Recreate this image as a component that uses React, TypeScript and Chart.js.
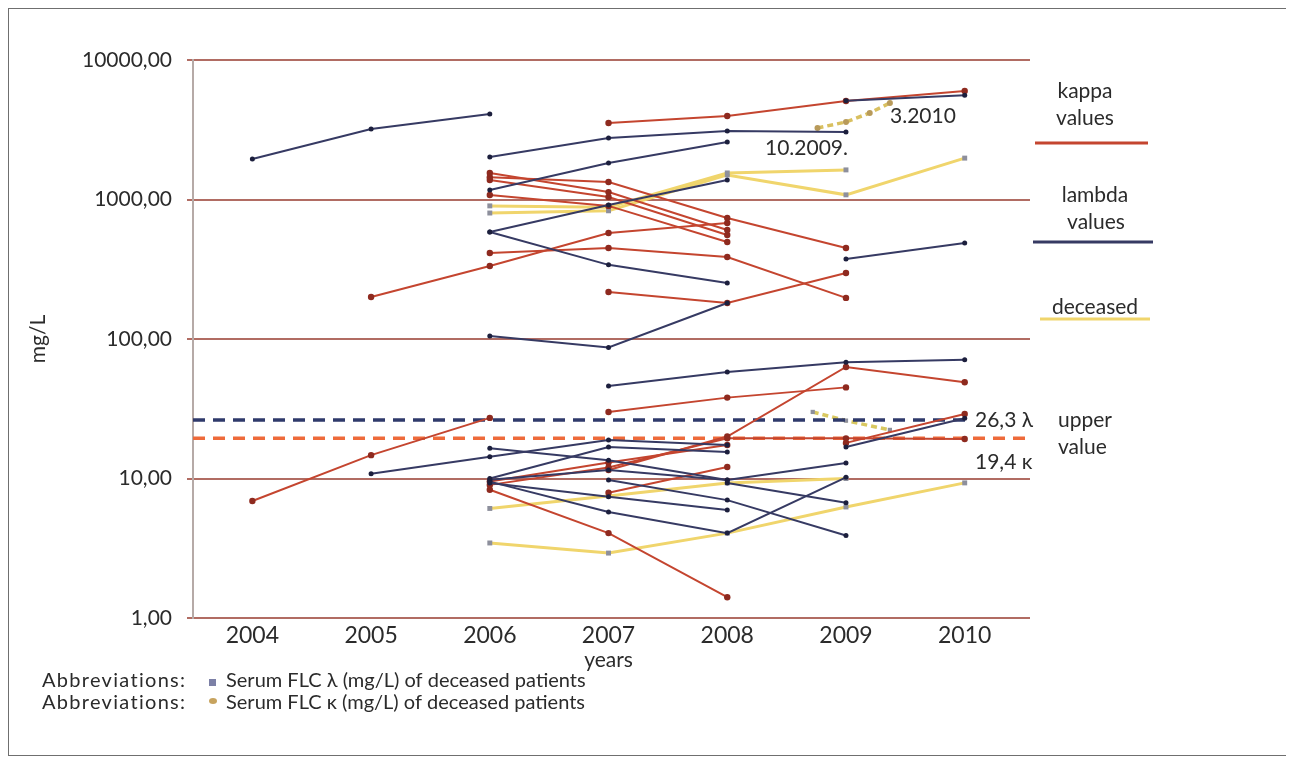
import React, { useEffect, useRef } from "react";
import { Chart, registerables } from "chart.js";
Chart.register(...registerables);

type P = [number, number];

const years = [2004, 2005, 2006, 2007, 2008, 2009, 2010];
const yTicks = [1, 10, 100, 1000, 10000];

// kappa (red) series: [year, mg/L]
const kappa01: P[] = [[2007, 3535], [2008, 3970], [2009, 5080], [2010, 6000]];
const kappa02: P[] = [[2006, 1550], [2007, 1130], [2008, 604]];
const kappa03: P[] = [[2006, 1446], [2007, 1334], [2008, 737], [2009, 449]];
const kappa04: P[] = [[2006, 1380], [2007, 1042], [2008, 557]];
const kappa05: P[] = [[2006, 1077], [2007, 900], [2008, 496]];
const kappa06: P[] = [[2006, 413], [2007, 449], [2008, 387], [2009, 197]];
const kappa07: P[] = [[2005, 200], [2006, 334], [2007, 575], [2008, 679]];
const kappa08: P[] = [[2007, 217], [2008, 181], [2009, 297]];
const kappa09: P[] = [[2004, 6.9], [2005, 14.7], [2006, 27.2]];
const kappa10: P[] = [[2007, 30], [2008, 38], [2009, 45]];
const kappa11: P[] = [[2007, 11.5], [2008, 20], [2009, 63], [2010, 49]];
const kappa12: P[] = [[2006, 9], [2007, 12], [2008, 19.4], [2009, 19.4], [2010, 19.2]];
const kappa13: P[] = [[2006, 8.3], [2007, 4.06], [2008, 1.41]];
const kappa14: P[] = [[2007, 7.9], [2008, 12.1]];
const kappa15: P[] = [[2009, 18], [2010, 29]];
const kappa16: P[] = [[2006, 9.5], [2007, 13], [2008, 17.4]];

// lambda (navy) series
const lambda01: P[] = [[2004, 1950], [2005, 3200], [2006, 4100]];
const lambda02: P[] = [[2009, 5100], [2010, 5600]];
const lambda03: P[] = [[2006, 2018], [2007, 2760], [2008, 3100], [2009, 3050]];
const lambda04: P[] = [[2006, 1170], [2007, 1828], [2008, 2583]];
const lambda05: P[] = [[2006, 585], [2007, 913], [2008, 1380]];
const lambda06: P[] = [[2006, 585], [2007, 340], [2008, 252]];
const lambda07: P[] = [[2006, 105], [2007, 87], [2008, 181]];
const lambda08: P[] = [[2009, 375], [2010, 488]];
const lambda09: P[] = [[2007, 46], [2008, 58], [2009, 68], [2010, 71]];
const lambda10: P[] = [[2005, 10.8], [2006, 14.3], [2007, 18.9], [2008, 17.4]];
const lambda11: P[] = [[2006, 16.5], [2007, 13.5], [2008, 9.75]];
const lambda12: P[] = [[2006, 10], [2007, 16.8], [2008, 15.5]];
const lambda13: P[] = [[2006, 9.8], [2007, 11.5], [2008, 9.75], [2009, 12.9]];
const lambda14: P[] = [[2006, 9.3], [2007, 7.4], [2008, 5.95]];
const lambda15: P[] = [[2006, 9.5], [2007, 5.75], [2008, 4.06], [2009, 10.2]];
const lambda16: P[] = [[2007, 9.75], [2008, 7.0], [2009, 3.9]];
const lambda17: P[] = [[2008, 9.3], [2009, 6.7]];
const lambda18: P[] = [[2009, 16.8], [2010, 27]];

// deceased (yellow) series
const deceased01: P[] = [[2006, 900], [2007, 880], [2008, 1550], [2009, 1630]];
const deceased02: P[] = [[2006, 800], [2007, 830], [2008, 1500], [2009, 1080], [2010, 1980]];
const deceased03: P[] = [[2006, 6.1], [2007, 7.5], [2008, 9.3], [2009, 10]];
const deceased04: P[] = [[2006, 3.45], [2007, 2.92], [2008, 4.06], [2009, 6.25], [2010, 9.3]];
const deceasedKappaLate: P[] = [[2008.76, 3258], [2009.0, 3594], [2009.2, 4170], [2009.37, 4920]];
const deceasedLambdaLate: P[] = [[2008.72, 30], [2009.0, 26], [2009.37, 22.3]];

// upper reference values
const upperLambda = 26.3;
const upperKappa = 19.4;
const xMin = 2003.5;
const xMax = 2010.55;
const lambdaLineEnd = 2010.07;

const kappaSeries = [kappa01, kappa02, kappa03, kappa04, kappa05, kappa06, kappa07, kappa08, kappa09, kappa10, kappa11, kappa12, kappa13, kappa14, kappa15, kappa16];
const lambdaSeries = [lambda01, lambda02, lambda03, lambda04, lambda05, lambda06, lambda07, lambda08, lambda09, lambda10, lambda11, lambda12, lambda13, lambda14, lambda15, lambda16, lambda17, lambda18];
const deceasedSeries = [deceased01, deceased02, deceased03, deceased04];

const RED = "#c4452f";
const RED_PT = "#8e2a1f";
const NAVY = "#363a63";
const NAVY_PT = "#1c1f3d";
const YELLOW = "#f0d56c";
const GRAY_PT = "#8d8f9c";
const FONT = "Lato, 'Open Sans', sans-serif";
const TEXT = "#2b2b2b";

function mk(pts: P[], color: string, pt: string, width: number, radius: number, style: string = "circle", dash: number[] = []) {
  return {
    data: pts.map(([x, y]) => ({ x, y })),
    borderColor: color,
    backgroundColor: pt,
    pointBackgroundColor: pt,
    pointBorderColor: pt,
    pointBorderWidth: 0,
    borderWidth: width,
    pointRadius: radius,
    pointStyle: style,
    borderDash: dash,
    tension: 0,
    fill: false,
  };
}

const overlay = {
  id: "overlay",
  afterDraw(chart: any) {
    const { ctx, chartArea: ca, scales } = chart;
    const xs = scales.x;
    const ys = scales.y;
    ctx.save();
    ctx.fillStyle = TEXT;
    ctx.font = `21px ${FONT}`;
    ctx.textBaseline = "middle";

    // axis titles
    ctx.save();
    ctx.translate(30, (ca.top + ca.bottom) / 2);
    ctx.rotate(-Math.PI / 2);
    ctx.textAlign = "center";
    ctx.fillText("mg/L", 0, 0);
    ctx.restore();
    ctx.textAlign = "center";
    ctx.fillText("years", xs.getPixelForValue(2007), 652);

    // right-side legend
    const legendLine = (x1: number, x2: number, y: number, c: string) => {
      ctx.save();
      ctx.strokeStyle = c;
      ctx.lineWidth = 3;
      ctx.beginPath();
      ctx.moveTo(x1, y);
      ctx.lineTo(x2, y);
      ctx.stroke();
      ctx.restore();
    };
    ctx.textAlign = "center";
    ctx.fillText("kappa", 1077, 83);
    ctx.fillText("values", 1077, 110);
    legendLine(1027, 1140, 135, RED);
    ctx.fillText("lambda", 1087, 187);
    ctx.fillText("values", 1088, 214);
    legendLine(1025, 1145, 234, NAVY);
    ctx.fillText("deceased", 1087, 299);
    legendLine(1032, 1142, 311, YELLOW);
    ctx.textAlign = "left";
    ctx.fillText("upper", 1050, 412);
    ctx.fillText("value", 1050, 439);

    // reference value labels
    ctx.fillText("26,3 \u03bb", 967, ys.getPixelForValue(upperLambda));
    ctx.fillText("19,4 \u03ba", 967, ys.getPixelForValue(upperKappa) + 24);

    // date annotations
    ctx.fillText("10.2009.", 757, 140);
    ctx.fillText("3.2010", 882, 108);

    // abbreviations
    ctx.font = `20px ${FONT}`;
    ctx.save();
    (ctx as any).letterSpacing = "1.3px";
    ctx.fillText("Abbreviations:", 34, 673);
    ctx.fillText("Abbreviations:", 34, 695);
    ctx.restore();
    ctx.fillStyle = "#7c80a6";
    ctx.fillRect(201, 671, 7, 7);
    ctx.fillStyle = "#c7a35e";
    ctx.beginPath();
    ctx.ellipse(205, 693, 4, 3, 0, 0, Math.PI * 2);
    ctx.fill();
    ctx.fillStyle = TEXT;
    ctx.fillText("Serum FLC \u03bb (mg/L) of deceased patients", 218, 673);
    ctx.fillText("Serum FLC \u03ba (mg/L) of deceased patients", 218, 695);
    ctx.restore();
  },
};

export default function App() {
  const ref = useRef<HTMLCanvasElement | null>(null);
  useEffect(() => {
    if (!ref.current) return;
    const datasets: any[] = [];
    lambdaSeries.forEach((s) => datasets.push(mk(s, NAVY, NAVY_PT, 2, 2.5)));
    kappaSeries.forEach((s) => datasets.push(mk(s, RED, RED_PT, 2, 3.2)));
    datasets.push(mk([[xMin, upperLambda], [lambdaLineEnd, upperLambda]], "#2f3a6b", "#2f3a6b", 3.5, 0, "circle", [12, 8]));
    datasets.push(mk([[xMin, upperKappa], [xMax, upperKappa]], "#ee6a3a", "#ee6a3a", 3.5, 0, "circle", [12, 8]));
    datasets.push(mk(deceasedKappaLate, "#d9c060", "#b89a5a", 3.5, 3, "circle", [6, 4]));
    datasets.push(mk(deceasedLambdaLate, "#d9c860", GRAY_PT, 3.5, 3, "rect", [6, 4]));
    deceasedSeries.forEach((s) => datasets.push(mk(s, YELLOW, GRAY_PT, 3, 3.5, "rect")));

    const chart = new Chart(ref.current, {
      type: "line",
      data: { datasets },
      plugins: [overlay as any],
      options: {
        animation: false,
        responsive: false,
        events: [],
        layout: { padding: { left: 0, right: 257, top: 52, bottom: 78 } },
        plugins: { legend: { display: false }, tooltip: { enabled: false } },
        scales: {
          x: {
            type: "linear",
            min: xMin,
            max: xMax,
            afterBuildTicks: (s: any) => {
              s.ticks = years.map((v) => ({ value: v }));
            },
            afterFit: (s: any) => {
              s.height = 60;
            },
            grid: { display: false, drawTicks: false },
            border: { display: false },
            ticks: {
              autoSkip: false,
              maxRotation: 0,
              padding: 4,
              color: TEXT,
              font: { family: FONT, size: 23 },
              callback: (v: any) => String(v),
            },
          },
          y: {
            type: "logarithmic",
            min: 1,
            max: 10000,
            afterBuildTicks: (s: any) => {
              s.ticks = yTicks.map((v) => ({ value: v }));
            },
            afterFit: (s: any) => {
              s.width = 185;
            },
            grid: { color: "rgba(168,92,82,0.9)", lineWidth: 2, tickLength: 6, drawTicks: true },
            border: { color: "#b6aaa7", width: 2 },
            ticks: {
              autoSkip: false,
              padding: 15,
              color: TEXT,
              font: { family: FONT, size: 21 },
              callback: (v: any) => Number(v).toFixed(2).replace(".", ","),
            },
          },
        },
      },
    });
    return () => chart.destroy();
  }, []);

  return (
    <div style={{ position: "relative", width: 1279, height: 748 }}>
      <canvas ref={ref} width={1279} height={748} style={{ position: "absolute", left: 0, top: 0 }} />
      <div
        style={{
          position: "absolute",
          inset: 0,
          border: "1px solid #6f6f6f",
          boxSizing: "border-box",
          pointerEvents: "none",
        }}
      />
    </div>
  );
}
